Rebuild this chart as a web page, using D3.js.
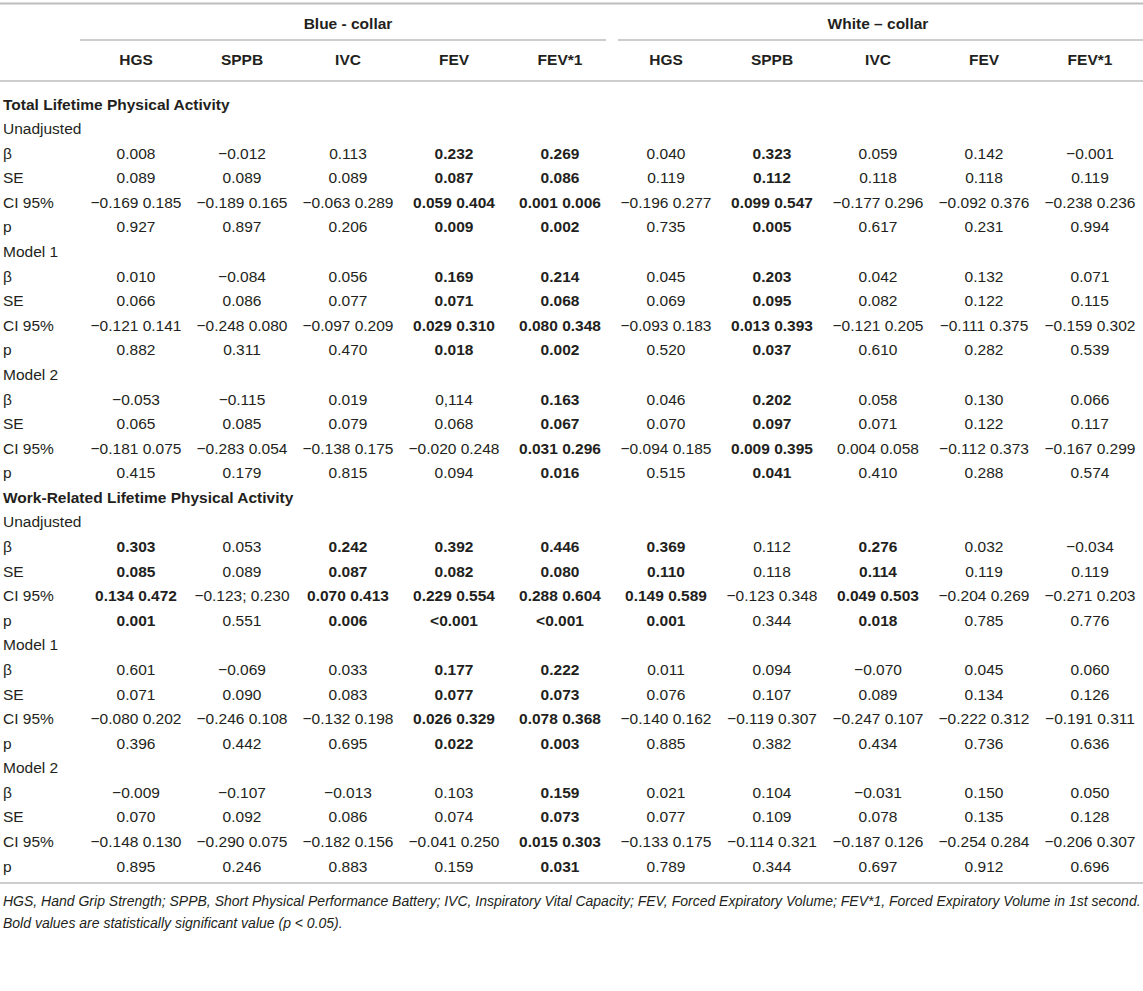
<!DOCTYPE html>
<html>
<head>
<meta charset="utf-8">
<script src="https://cdn.jsdelivr.net/npm/d3@7"></script>
<style>
  html, body { margin: 0; padding: 0; background: #fff; }
  svg { display: block; font-family: "Liberation Sans", Arial, Helvetica, sans-serif; }
</style>
</head>
<body>
<svg id="chart" width="1143" height="991"></svg>
<script>
// ---------- DATA ----------
const groups = ["Blue - collar", "White \u2013 collar"];
const measures = ["HGS", "SPPB", "IVC", "FEV", "FEV*1"];
const statLabels = ["\u03b2", "SE", "CI 95%", "p"];
const sections = ["Total Lifetime Physical Activity", "Work-Related Lifetime Physical Activity"];
const models = ["Unadjusted", "Model 1", "Model 2"];

// Each block: rows β, SE, CI 95%, p ; 10 columns (5 blue-collar, 5 white-collar)
const totalUnadjusted = [
  ["0.008", "\u22120.012", "0.113", "0.232", "0.269", "0.040", "0.323", "0.059", "0.142", "\u22120.001"],
  ["0.089", "0.089", "0.089", "0.087", "0.086", "0.119", "0.112", "0.118", "0.118", "0.119"],
  ["\u22120.169 0.185", "\u22120.189 0.165", "\u22120.063 0.289", "0.059 0.404", "0.001 0.006", "\u22120.196 0.277", "0.099 0.547", "\u22120.177 0.296", "\u22120.092 0.376", "\u22120.238 0.236"],
  ["0.927", "0.897", "0.206", "0.009", "0.002", "0.735", "0.005", "0.617", "0.231", "0.994"]
];
const totalModel1 = [
  ["0.010", "\u22120.084", "0.056", "0.169", "0.214", "0.045", "0.203", "0.042", "0.132", "0.071"],
  ["0.066", "0.086", "0.077", "0.071", "0.068", "0.069", "0.095", "0.082", "0.122", "0.115"],
  ["\u22120.121 0.141", "\u22120.248 0.080", "\u22120.097 0.209", "0.029 0.310", "0.080 0.348", "\u22120.093 0.183", "0.013 0.393", "\u22120.121 0.205", "\u22120.111 0.375", "\u22120.159 0.302"],
  ["0.882", "0.311", "0.470", "0.018", "0.002", "0.520", "0.037", "0.610", "0.282", "0.539"]
];
const totalModel2 = [
  ["\u22120.053", "\u22120.115", "0.019", "0,114", "0.163", "0.046", "0.202", "0.058", "0.130", "0.066"],
  ["0.065", "0.085", "0.079", "0.068", "0.067", "0.070", "0.097", "0.071", "0.122", "0.117"],
  ["\u22120.181 0.075", "\u22120.283 0.054", "\u22120.138 0.175", "\u22120.020 0.248", "0.031 0.296", "\u22120.094 0.185", "0.009 0.395", "0.004 0.058", "\u22120.112 0.373", "\u22120.167 0.299"],
  ["0.415", "0.179", "0.815", "0.094", "0.016", "0.515", "0.041", "0.410", "0.288", "0.574"]
];
const workUnadjusted = [
  ["0.303", "0.053", "0.242", "0.392", "0.446", "0.369", "0.112", "0.276", "0.032", "\u22120.034"],
  ["0.085", "0.089", "0.087", "0.082", "0.080", "0.110", "0.118", "0.114", "0.119", "0.119"],
  ["0.134 0.472", "\u22120.123; 0.230", "0.070 0.413", "0.229 0.554", "0.288 0.604", "0.149 0.589", "\u22120.123 0.348", "0.049 0.503", "\u22120.204 0.269", "\u22120.271 0.203"],
  ["0.001", "0.551", "0.006", "<0.001", "<0.001", "0.001", "0.344", "0.018", "0.785", "0.776"]
];
const workModel1 = [
  ["0.601", "\u22120.069", "0.033", "0.177", "0.222", "0.011", "0.094", "\u22120.070", "0.045", "0.060"],
  ["0.071", "0.090", "0.083", "0.077", "0.073", "0.076", "0.107", "0.089", "0.134", "0.126"],
  ["\u22120.080 0.202", "\u22120.246 0.108", "\u22120.132 0.198", "0.026 0.329", "0.078 0.368", "\u22120.140 0.162", "\u22120.119 0.307", "\u22120.247 0.107", "\u22120.222 0.312", "\u22120.191 0.311"],
  ["0.396", "0.442", "0.695", "0.022", "0.003", "0.885", "0.382", "0.434", "0.736", "0.636"]
];
const workModel2 = [
  ["\u22120.009", "\u22120.107", "\u22120.013", "0.103", "0.159", "0.021", "0.104", "\u22120.031", "0.150", "0.050"],
  ["0.070", "0.092", "0.086", "0.074", "0.073", "0.077", "0.109", "0.078", "0.135", "0.128"],
  ["\u22120.148 0.130", "\u22120.290 0.075", "\u22120.182 0.156", "\u22120.041 0.250", "0.015 0.303", "\u22120.133 0.175", "\u22120.114 0.321", "\u22120.187 0.126", "\u22120.254 0.284", "\u22120.206 0.307"],
  ["0.895", "0.246", "0.883", "0.159", "0.031", "0.789", "0.344", "0.697", "0.912", "0.696"]
];
// Significant (bold) columns per block
const totalUnadjustedSig = [0, 0, 0, 1, 1, 0, 1, 0, 0, 0];
const totalModel1Sig     = [0, 0, 0, 1, 1, 0, 1, 0, 0, 0];
const totalModel2Sig     = [0, 0, 0, 0, 1, 0, 1, 0, 0, 0];
const workUnadjustedSig  = [1, 0, 1, 1, 1, 1, 0, 1, 0, 0];
const workModel1Sig      = [0, 0, 0, 1, 1, 0, 0, 0, 0, 0];
const workModel2Sig      = [0, 0, 0, 0, 1, 0, 0, 0, 0, 0];

const footnotes = [
  "HGS, Hand Grip Strength; SPPB, Short Physical Performance Battery; IVC, Inspiratory Vital Capacity; FEV, Forced Expiratory Volume; FEV*1, Forced Expiratory Volume in 1st second.",
  "Bold values are statistically significant value (p < 0.05)."
];

// ---------- BUILD ROWS ----------
const blockData = [
  [totalUnadjusted, totalModel1, totalModel2],
  [workUnadjusted, workModel1, workModel2]
];
const blockSig = [
  [totalUnadjustedSig, totalModel1Sig, totalModel2Sig],
  [workUnadjustedSig, workModel1Sig, workModel2Sig]
];
const rows = [];
sections.forEach((s, si) => {
  rows.push({ type: "section", label: s });
  models.forEach((m, mi) => {
    rows.push({ type: "model", label: m });
    statLabels.forEach((st, ri) => {
      rows.push({ type: "stat", label: st, values: blockData[si][mi][ri], sig: blockSig[si][mi] });
    });
  });
});
const columns = [];
groups.forEach((g, gi) => measures.forEach(m => columns.push({ group: gi, name: m })));

// ---------- LAYOUT ----------
const W = 1143;
const svg = d3.select("#chart");
const FS = 15.5;
const textColor = "#231f20";
const lineColor = "#bdbdbd";

const x = d3.scalePoint()
  .domain(d3.range(columns.length))
  .range([136, 1090]);

const rowY = d3.scaleLinear()
  .domain([0, rows.length - 1])
  .range([104, 866]);

// top line
svg.append("line").attr("x1", 0).attr("x2", W).attr("y1", 3.5).attr("y2", 3.5)
  .attr("stroke", lineColor).attr("stroke-width", 2);

// group headers
groups.forEach((g, gi) => {
  const idx = columns.map((c, i) => i).filter(i => columns[i].group === gi);
  const cx = (x(idx[0]) + x(idx[idx.length - 1])) / 2;
  svg.append("text").attr("x", cx).attr("y", 23).attr("dy", "0.36em")
    .attr("text-anchor", "middle").attr("font-weight", "bold")
    .attr("font-size", FS).attr("fill", textColor).text(g);
});
// group underlines
const gLines = [[80, 606], [618, W]];
gLines.forEach(([a, b]) => {
  svg.append("line").attr("x1", a).attr("x2", b).attr("y1", 40).attr("y2", 40)
    .attr("stroke", lineColor).attr("stroke-width", 1.4);
});
// column headers
svg.selectAll("text.colhead").data(columns).join("text")
  .attr("class", "colhead")
  .attr("x", (d, i) => x(i)).attr("y", 59).attr("dy", "0.36em")
  .attr("text-anchor", "middle").attr("font-weight", "bold")
  .attr("font-size", FS).attr("fill", textColor)
  .text(d => d.name);
// header bottom line
svg.append("line").attr("x1", 0).attr("x2", W).attr("y1", 81).attr("y2", 81)
  .attr("stroke", lineColor).attr("stroke-width", 1.4);

// rows
const rowG = svg.selectAll("g.row").data(rows).join("g")
  .attr("class", "row")
  .attr("transform", (d, i) => `translate(0,${rowY(i)})`);

rowG.append("text")
  .attr("x", 3).attr("dy", "0.36em")
  .attr("font-size", FS)
  .attr("font-weight", d => d.type === "section" ? "bold" : "normal")
  .attr("fill", textColor)
  .text(d => d.label);

rowG.filter(d => d.type === "stat").each(function(d) {
  d3.select(this).selectAll("text.val").data(d.values).join("text")
    .attr("class", "val")
    .attr("x", (v, i) => x(i)).attr("dy", "0.36em")
    .attr("text-anchor", "middle")
    .attr("font-size", FS)
    .attr("font-weight", (v, i) => d.sig[i] ? "bold" : "normal")
    .attr("fill", textColor)
    .text(v => v);
});

// bottom line
svg.append("line").attr("x1", 0).attr("x2", W).attr("y1", 883).attr("y2", 883)
  .attr("stroke", lineColor).attr("stroke-width", 1.4);

// footnotes
footnotes.forEach((f, i) => {
  svg.append("text").attr("x", 3).attr("y", 901 + i * 22).attr("dy", "0.36em")
    .attr("font-size", 14).attr("font-style", "italic").attr("fill", textColor)
    .text(f);
});
</script>
</body>
</html>
